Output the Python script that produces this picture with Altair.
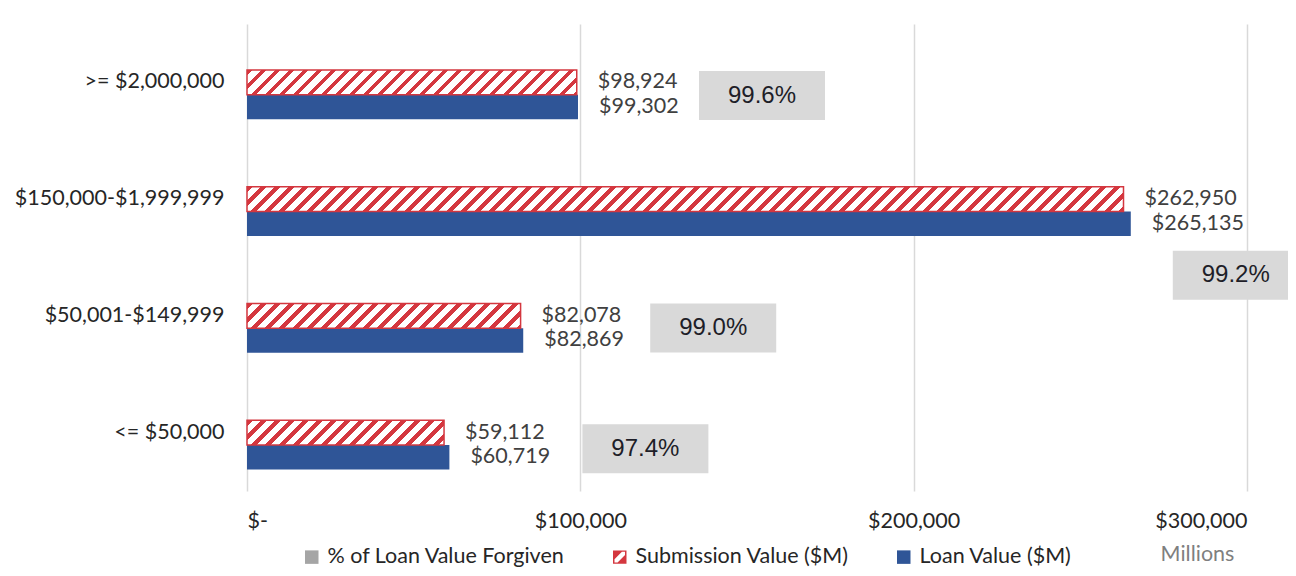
import altair as alt
import pandas as pd

# ---------------- data ----------------
categories = [">= $2,000,000", "$150,000-$1,999,999", "$50,001-$149,999", "<= $50,000"]
submission_values = [98924, 262950, 82078, 59112]
loan_values = [99302, 265135, 82869, 60719]
pct_forgiven = [99.6, 99.2, 99.0, 97.4]
series_names = ["% of Loan Value Forgiven", "Submission Value ($M)", "Loan Value ($M)"]
x_tick_values = [0, 100000, 200000, 300000]
x_max = 300000

# ---------------- style ----------------
PLOT_W, PLOT_H = 1000, 467
PAD_INNER = 0.37
FONT = "Lato"
FS = 21.5
TXT = "#262626"
VAL_TXT = "#404040"
RED = "#D4373F"
BLUE = "#2F5597"
GRAY_LEG = "#A5A5A5"
BOX = "#D9D9D9"
GRID = "#D9D9D9"
HATCH_PERIOD = 14.0
HATCH_RED = 0.42
# manual placement of the % labels (pixels from end of loan bar / top of category band)
pct_nudge_x = [184, 105, 190, 196]
pct_nudge_y = [50, 113, 49, 53]

step = PLOT_H / len(categories)
slot_h = step * (1 - PAD_INNER) / len(series_names)


def hatch_fill(w, h, period=HATCH_PERIOD, red_part=HATCH_RED):
    a = h / w
    s = (1 + a) / (1 + a * a)
    total = w + h
    stops = []
    p = 0.0
    while p < total:
        r_end = min(p + red_part * period, total)
        w_end = min(p + period, total)
        stops.append({"offset": round(p / total, 6), "color": RED})
        stops.append({"offset": round(r_end / total, 6), "color": RED})
        if r_end < total:
            stops.append({"offset": round(r_end / total, 6), "color": "#FFFFFF"})
            stops.append({"offset": round(w_end / total, 6), "color": "#FFFFFF"})
        p += period
    return {"gradient": "linear", "x1": 0, "y1": 0, "x2": s, "y2": s * a, "stops": stops}


rows = []
for c, s, l in zip(categories, submission_values, loan_values):
    rows.append({"category": c, "series": series_names[1], "value": s})
    rows.append({"category": c, "series": series_names[2], "value": l})
bars = pd.DataFrame(rows)

pct_df = pd.DataFrame({
    "category": categories,
    "loan": loan_values,
    "label": [f"{p:.1f}%" for p in pct_forgiven],
    "nx": pct_nudge_x,
    "ny": pct_nudge_y,
})
leg_df = pd.DataFrame({"series": series_names})

x_scale = alt.Scale(domain=[0, x_max], nice=False, zero=True)
x_axis = alt.Axis(
    values=x_tick_values,
    labelExpr="datum.value == 0 ? '$-' : '$' + format(datum.value, ',')",
    grid=True, gridColor=GRID, gridWidth=1.5,
    domain=False, ticks=False,
    labelFont=FONT, labelFontSize=FS, labelColor=TXT, labelPadding=19,
    titleX=950, titleY=63, titleAlign="center", titleBaseline="middle",
    titleFont=FONT, titleFontSize=FS, titleFontWeight="normal", titleColor="#7F7F7F",
)
x_enc = alt.X("value:Q", scale=x_scale, axis=x_axis, title="Millions")
x_pct = alt.X("xpos:Q", scale=x_scale, axis=x_axis, title="Millions")
y_enc = alt.Y(
    "category:N",
    scale=alt.Scale(domain=categories, paddingInner=PAD_INNER, paddingOuter=PAD_INNER / 2),
    axis=alt.Axis(domain=False, ticks=False, grid=False, labelFont=FONT, labelFontSize=FS,
                  labelColor=TXT, labelPadding=23, labelLimit=0),
    title=None,
)
yoff_enc = alt.YOffset("series:N", scale=alt.Scale(domain=series_names, paddingInner=0, paddingOuter=0))

loan_bars = alt.Chart(bars).transform_filter(
    alt.datum.series == series_names[2]
).mark_bar(color=BLUE).encode(x=x_enc, y=y_enc, yOffset=yoff_enc)

hatch_layers = []
for c, s in zip(categories, submission_values):
    w_px = s / x_max * PLOT_W
    hatch_layers.append(
        alt.Chart(bars).transform_filter(
            (alt.datum.series == series_names[1]) & (alt.datum.category == c)
        ).mark_bar(fill=hatch_fill(w_px, slot_h), stroke=RED, strokeWidth=1.5)
        .encode(x=x_enc, y=y_enc, yOffset=yoff_enc)
    )

value_labels = alt.Chart(bars).mark_text(
    align="left", baseline="middle", dx=21, font=FONT, fontSize=FS, color=VAL_TXT
).encode(x=x_enc, y=y_enc, yOffset=yoff_enc, text=alt.Text("value:Q", format="$,.0f"))

# label box sits a fixed pixel nudge right of the loan bar end
pct_base = alt.Chart(pct_df).transform_calculate(
    xpos=f"datum.loan + datum.nx * {x_max} / {PLOT_W}"
)
BOX_PATH = "M-1.2857,-0.5H1.2857V0.5H-1.2857Z"
pct_boxes = pct_base.mark_point(
    shape=BOX_PATH, size=9604, filled=True, fill=BOX, opacity=1, strokeWidth=0
).encode(x=x_pct, y=y_enc, yOffset=alt.YOffset("ny:Q", scale=None))
pct_text = pct_base.mark_text(
    font="Liberation Sans", fontSize=24, color="#1E1E28", align="center", baseline="middle"
).encode(x=x_pct, y=y_enc, yOffset=alt.YOffset("ny:Q", scale=None), text="label:N")

SQ = "M-1,-1H1V1H-1Z"
HATCH_SYM = ("M-1,-1L1,-1L1,1L-1,1Z M-0.78,-0.78L-0.78,0.78L0.78,0.78L0.78,-0.78Z "
             "M-0.78,-0.78L0.32,-0.78L-0.78,0.32Z M0.78,0.78L-0.32,0.78L0.78,-0.32Z")
legend_kw = dict(
    orient="none", legendX=54, legendY=522, direction="horizontal", title=None,
    labelFont=FONT, labelFontSize=FS, labelColor=TXT, labelLimit=0,
    symbolSize=182, labelOffset=5, columnPadding=44, symbolStrokeWidth=0,
    symbolOpacity=1, padding=0,
)
legend_layer = alt.Chart(leg_df).mark_point(filled=True, opacity=0).encode(
    color=alt.Color("series:N", scale=alt.Scale(domain=series_names, range=[GRAY_LEG, RED, BLUE]),
                    legend=alt.Legend(**legend_kw)),
    shape=alt.Shape("series:N", scale=alt.Scale(domain=series_names, range=[SQ, HATCH_SYM, SQ]),
                    legend=alt.Legend(**legend_kw)),
)

chart = alt.layer(
    loan_bars, *hatch_layers, value_labels, pct_boxes, pct_text, legend_layer
).properties(
    width=PLOT_W, height=PLOT_H,
    autosize=alt.AutoSizeParams(type="none"),
    padding={"left": 239, "top": 16, "right": 41, "bottom": 77},
).configure_view(stroke=None)

chart.save("out.html", embed_options={"renderer": "svg", "actions": False})
